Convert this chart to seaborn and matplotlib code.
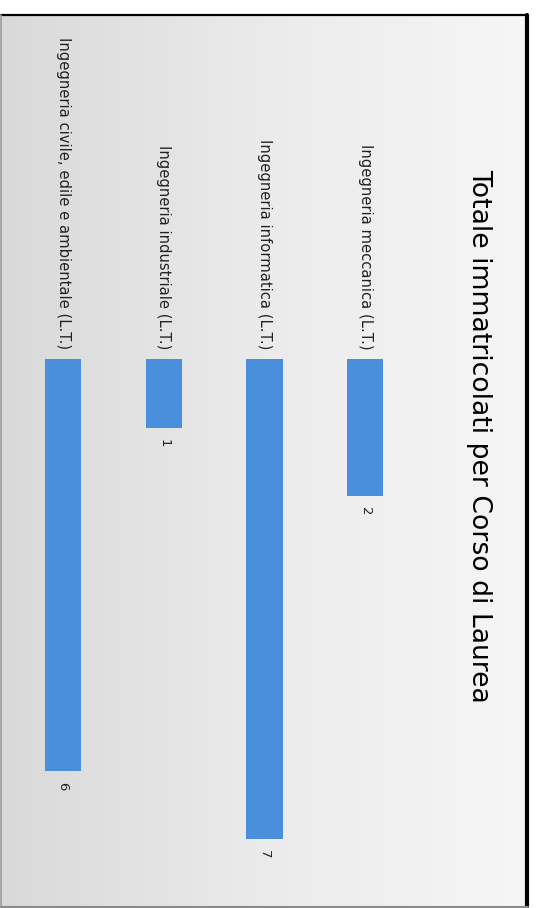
import numpy as np
import matplotlib
matplotlib.use("Agg")
import matplotlib.pyplot as plt
import seaborn as sns

# data
courses = ["Ingegneria civile, edile e ambientale (L.T.)",
           "Ingegneria industriale (L.T.)",
           "Ingegneria informatica (L.T.)",
           "Ingegneria meccanica (L.T.)"]
counts = [6, 1, 7, 2]
title = "Totale immatricolati per Corso di Laurea"

sns.set_theme(style="white")
plt.rcParams['font.family'] = ['DejaVu Sans']

W, H = 536, 908
fig = plt.figure(figsize=(W / 100, H / 100), dpi=100, facecolor="white")

# background panel with grey -> white gradient and frame
bg = fig.add_axes([0, 0, 1, 1])
bg.set_xlim(0, W)
bg.set_ylim(H, 0)
bg.axis("off")
grad = np.linspace(0, 1, 256).reshape(1, -1)
cmap = matplotlib.colors.LinearSegmentedColormap.from_list("bg", ["#d9d9d9", "#ebebeb", "#f6f6f6"])
bg.imshow(grad, cmap=cmap, aspect="auto", extent=(1, 528, 907, 15), zorder=0)
bg.plot([1, 528], [15, 15], color="black", lw=1.6, zorder=2)
bg.plot([527, 527], [15, 907], color="black", lw=3, zorder=2)
bg.plot([1, 1], [15, 907], color="#9a9a9a", lw=1.2, zorder=2)
bg.plot([1, 528], [906.5, 906.5], color="#8a8a8a", lw=1.5, zorder=2)
bg.text(479, 436, title, rotation=-90, ha="center", va="center",
        fontsize=19.2, color="black", zorder=3)

# bar chart, rotated: bars hang downward
ax = fig.add_axes([12.7 / W, (H - 873.5) / H, 403 / W, 514.5 / H])
ax.patch.set_alpha(0)
sns.barplot(x=courses, y=counts, color="#4a8fdb", saturation=1, width=0.36,
            linewidth=0, ax=ax)
ax.set_xlim(-0.5, 3.5)
ax.set_ylim(7.5, 0)
ax.axis("off")

for i, (name, v) in enumerate(zip(courses, counts)):
    ax.annotate(name, (i, 0), xytext=(0, 7), textcoords="offset points",
                rotation=-90, ha="center", va="bottom", fontsize=10.6,
                color="#222222")
    ax.annotate(str(v), (i, v), xytext=(0, -8), textcoords="offset points",
                rotation=-90, ha="center", va="top", fontsize=9.5, color="#222222")

fig.savefig("out.png", dpi=100, facecolor="white")
